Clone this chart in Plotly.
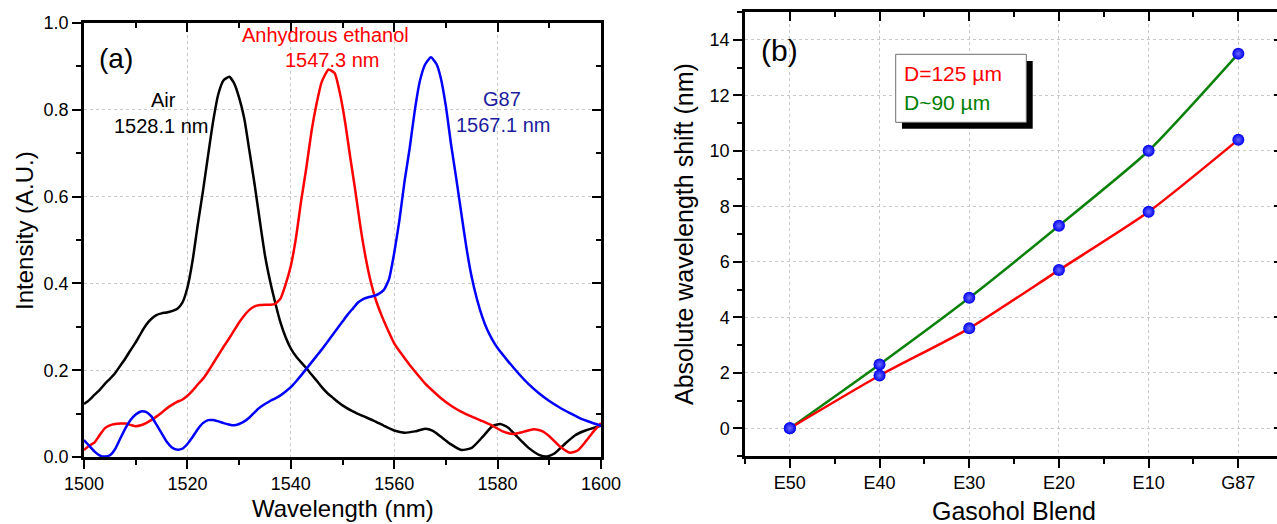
import plotly.graph_objects as go

# ---------------- data: panel (a) spectra ----------------
wl_air = [1500, 1501, 1502, 1503, 1504, 1505, 1506, 1507, 1508, 1509, 1510, 1511, 1512, 1513, 1514,
          1515, 1516, 1517, 1518, 1519, 1520, 1521, 1522, 1523, 1524, 1525, 1526, 1527, 1528.1, 1529,
          1530, 1531, 1532, 1533, 1534, 1535, 1536, 1537, 1538, 1539, 1540, 1541, 1542, 1543, 1544,
          1545, 1546, 1547, 1548, 1549, 1550, 1552, 1554, 1556, 1558, 1560, 1562, 1564, 1566, 1567.5,
          1569, 1571, 1573, 1575, 1577, 1579, 1580.5, 1582, 1584, 1586, 1588, 1589.5, 1591, 1593, 1595,
          1597, 1600]
int_air = [0.122, 0.131, 0.143, 0.154, 0.168, 0.180, 0.193, 0.210, 0.227, 0.246, 0.264, 0.285, 0.304, 0.318, 0.327,
           0.331, 0.333, 0.336, 0.341, 0.355, 0.390, 0.452, 0.535, 0.612, 0.695, 0.775, 0.837, 0.868, 0.876, 0.862,
           0.828, 0.780, 0.705, 0.628, 0.545, 0.465, 0.405, 0.355, 0.310, 0.276, 0.250, 0.232, 0.218, 0.205, 0.190,
           0.176, 0.161, 0.148, 0.138, 0.128, 0.119, 0.105, 0.094, 0.084, 0.072, 0.061, 0.056, 0.059, 0.065, 0.060,
           0.047, 0.029, 0.016, 0.021, 0.045, 0.071, 0.076, 0.068, 0.044, 0.021, 0.005, 0.001, 0.008, 0.030, 0.050,
           0.061, 0.072]

wl_eth = [1500, 1501, 1502, 1503, 1504, 1505, 1506, 1507, 1508, 1509, 1510, 1511, 1512, 1513, 1514,
          1515, 1516, 1517, 1518, 1519, 1520, 1521, 1522, 1523, 1524, 1525, 1526, 1527, 1528, 1529,
          1530, 1531, 1532, 1533, 1534, 1535, 1536, 1537, 1538, 1539, 1540, 1541, 1542, 1543, 1544,
          1545, 1546, 1547.3, 1548.5, 1549.5, 1550.5, 1551.5, 1552.5, 1553.5, 1554.5, 1555.5, 1556.5, 1557.5,
          1558.5, 1560, 1561.5, 1563, 1564.5, 1566, 1567.5, 1569, 1571, 1573, 1575, 1577, 1579, 1581, 1583,
          1585, 1587, 1588.5, 1590, 1592, 1594, 1595.5, 1597, 1598.5, 1600]
int_eth = [0.016, 0.026, 0.033, 0.050, 0.066, 0.073, 0.076, 0.077, 0.077, 0.074, 0.071, 0.073, 0.078, 0.085, 0.093,
           0.102, 0.112, 0.120, 0.127, 0.132, 0.141, 0.153, 0.167, 0.180, 0.197, 0.216, 0.235, 0.254, 0.272, 0.291,
           0.310, 0.326, 0.339, 0.347, 0.350, 0.351, 0.351, 0.353, 0.365, 0.398, 0.440, 0.505, 0.590, 0.666, 0.750,
           0.815, 0.865, 0.893, 0.884, 0.838, 0.772, 0.690, 0.612, 0.528, 0.458, 0.402, 0.360, 0.328,
           0.300, 0.262, 0.236, 0.212, 0.190, 0.169, 0.152, 0.136, 0.118, 0.104, 0.093, 0.083, 0.072, 0.059, 0.053,
           0.058, 0.064, 0.060, 0.048, 0.025, 0.010, 0.015, 0.035, 0.058, 0.078]

wl_g87 = [1500, 1501, 1502, 1503, 1504, 1505, 1506, 1507, 1508, 1509, 1510, 1511, 1512, 1513, 1514,
          1515, 1516, 1517, 1518, 1519, 1520, 1521, 1522, 1523, 1524, 1525, 1526, 1527, 1528, 1529,
          1530, 1531, 1532, 1533, 1534, 1535, 1536, 1537, 1538, 1539, 1540, 1541, 1542, 1543, 1544,
          1545, 1546, 1547, 1548, 1549, 1550, 1551, 1552, 1553, 1554, 1555, 1556, 1557, 1558, 1559,
          1560, 1561, 1562, 1563, 1564, 1565, 1566, 1567.1, 1568.2, 1569, 1570, 1571, 1572, 1573, 1574,
          1575, 1576, 1577, 1578, 1579, 1580, 1582, 1584, 1586, 1588, 1590, 1592, 1594, 1596, 1598, 1600]
int_g87 = [0.039, 0.026, 0.013, 0.004, 0.001, 0.004, 0.018, 0.042, 0.066, 0.085, 0.098, 0.105, 0.104, 0.094, 0.075,
           0.055, 0.035, 0.022, 0.017, 0.019, 0.030, 0.046, 0.064, 0.078, 0.085, 0.085, 0.082, 0.078, 0.075, 0.073,
           0.076, 0.082, 0.091, 0.103, 0.114, 0.122, 0.129, 0.135, 0.142, 0.151, 0.161, 0.174, 0.188, 0.203, 0.218,
           0.233, 0.248, 0.264, 0.280, 0.296, 0.312, 0.328, 0.342, 0.356, 0.364, 0.368, 0.371, 0.376, 0.385, 0.410,
           0.470, 0.545, 0.635, 0.712, 0.800, 0.868, 0.905, 0.921, 0.905, 0.874, 0.808, 0.720, 0.642, 0.560, 0.480,
           0.414, 0.364, 0.324, 0.293, 0.270, 0.251, 0.221, 0.193, 0.168, 0.147, 0.129, 0.114, 0.101, 0.089, 0.080, 0.072]

# ---------------- data: panel (b) shifts ----------------
blends = ["E50", "E40", "E30", "E20", "E10", "G87"]
shift_d125 = [0.0, 1.9, 3.6, 5.7, 7.8, 10.4]
shift_d90 = [0.0, 2.3, 4.7, 7.3, 10.0, 13.5]
blend_pos = list(range(len(blends)))

# ---------------- styling ----------------
W, H = 1277, 524
FONT = "Liberation Sans, Arial, sans-serif"
GRID = "#c8c8c8"


def px(x):
    return x / W


def py(y):
    return 1 - y / H


fig = go.Figure()

line_kw = dict(width=2.5, shape="spline", smoothing=0.5)
fig.add_trace(go.Scatter(x=wl_air, y=int_air, mode="lines", line=dict(color="#000000", **line_kw),
                         xaxis="x", yaxis="y", hoverinfo="skip"))
fig.add_trace(go.Scatter(x=wl_eth, y=int_eth, mode="lines", line=dict(color="#ff0000", **line_kw),
                         xaxis="x", yaxis="y", hoverinfo="skip"))
fig.add_trace(go.Scatter(x=wl_g87, y=int_g87, mode="lines", line=dict(color="#0000ff", **line_kw),
                         xaxis="x", yaxis="y", hoverinfo="skip"))

# right panel lines
fig.add_trace(go.Scatter(x=blend_pos, y=shift_d90, mode="lines",
                         line=dict(color="#0a820a", width=2.5, shape="spline", smoothing=0.6),
                         xaxis="x2", yaxis="y2"))
fig.add_trace(go.Scatter(x=blend_pos, y=shift_d125, mode="lines",
                         line=dict(color="#ff0000", width=2.5, shape="spline", smoothing=0.6),
                         xaxis="x2", yaxis="y2"))
ball = dict(size=12, color="#0000f0", gradient=dict(type="radial", color="#6a6aff"), line=dict(width=0))
fig.add_trace(go.Scatter(x=blend_pos, y=shift_d90, mode="markers", marker=ball, xaxis="x2", yaxis="y2"))
fig.add_trace(go.Scatter(x=blend_pos, y=shift_d125, mode="markers", marker=ball, xaxis="x2", yaxis="y2"))

# dummy empty traces so mirrored (inside-tick) axes are drawn
fig.add_trace(go.Scatter(x=[], y=[], xaxis="x3", yaxis="y3"))
fig.add_trace(go.Scatter(x=[], y=[], xaxis="x4", yaxis="y4"))

tickfont = dict(family=FONT, size=18, color="black")
axis_common = dict(showline=True, linecolor="black", linewidth=2.5, zeroline=False, automargin=False,
                   tickcolor="black", tickwidth=2, tickfont=tickfont)

xdom_a = [px(84), px(601)]
ydom_a = [py(457), py(23)]
xdom_b = [px(745), 1.0]
ydom_b = [py(456), py(12)]

fig.update_layout(
    width=W, height=H, margin=dict(l=0, r=0, t=0, b=0, pad=0, autoexpand=False),
    paper_bgcolor="white", plot_bgcolor="white", showlegend=False,
    font=dict(family=FONT, color="black"),
    xaxis=dict(domain=xdom_a, anchor="y", range=[1500, 1600], tick0=1500, dtick=20,
               ticks="outside", ticklen=9, showgrid=True, gridcolor=GRID, griddash="dot", gridwidth=1,
               minor=dict(dtick=10, tick0=1500, ticks="outside", ticklen=5, tickwidth=2, tickcolor="black",
                          showgrid=False),
               **axis_common),
    yaxis=dict(domain=ydom_a, anchor="x", range=[0, 1], tick0=0, dtick=0.2, tickformat=".1f",
               ticks="outside", ticklen=9, showgrid=True, gridcolor=GRID, griddash="dot", gridwidth=1,
               minor=dict(dtick=0.1, tick0=0, ticks="outside", ticklen=5, tickwidth=2, tickcolor="black",
                          showgrid=False),
               **axis_common),
    xaxis3=dict(overlaying="x", anchor="y", side="top", range=[1500, 1600], tick0=1500, dtick=20,
                ticks="inside", ticklen=9, showticklabels=False, showgrid=False,
                minor=dict(dtick=10, tick0=1500, ticks="inside", ticklen=5, tickwidth=2, tickcolor="black"),
                **axis_common),
    yaxis3=dict(overlaying="y", anchor="x", side="right", range=[0, 1], tick0=0, dtick=0.2,
                ticks="inside", ticklen=9, showticklabels=False, showgrid=False,
                minor=dict(dtick=0.1, tick0=0, ticks="inside", ticklen=5, tickwidth=2, tickcolor="black"),
                **axis_common),
    xaxis2=dict(domain=xdom_b, anchor="y2", range=[-0.5, 5.431], tickmode="array",
                tickvals=blend_pos, ticktext=blends,
                ticks="outside", ticklen=9, showgrid=True, gridcolor=GRID, griddash="dot", gridwidth=1,
                minor=dict(tickmode="array", tickvals=[p + 0.5 for p in blend_pos] + [-0.5],
                           ticks="outside", ticklen=5, tickwidth=2, tickcolor="black", showgrid=False),
                **axis_common),
    yaxis2=dict(domain=ydom_b, anchor="x2", range=[-1, 15], tick0=0, dtick=2,
                ticks="outside", ticklen=9, showgrid=True, gridcolor=GRID, griddash="dot", gridwidth=1,
                minor=dict(dtick=1, tick0=0, ticks="outside", ticklen=5, tickwidth=2, tickcolor="black",
                           showgrid=False),
                **axis_common),
    xaxis4=dict(overlaying="x2", anchor="y2", side="top", range=[-0.5, 5.431], tickmode="array",
                tickvals=blend_pos, ticks="inside", ticklen=9, showticklabels=False, showgrid=False,
                minor=dict(tickmode="array", tickvals=[p + 0.5 for p in blend_pos],
                           ticks="inside", ticklen=5, tickwidth=2, tickcolor="black"),
                **axis_common),
    yaxis4=dict(overlaying="y2", anchor="x2", side="right", range=[-1, 15], tick0=0, dtick=2,
                ticks="inside", ticklen=3, showticklabels=False, showgrid=False, showline=False,
                zeroline=False, automargin=False, tickcolor="black", tickwidth=2),
)

# legend box (panel b) with drop shadow
fig.add_shape(type="rect", xref="paper", yref="paper", x0=px(902), x1=px(1032.7), y0=py(128.7), y1=py(61),
              fillcolor="black", line=dict(width=0))
fig.add_shape(type="rect", xref="paper", yref="paper", x0=px(895.7), x1=px(1026.3), y0=py(122.3), y1=py(54.3),
              fillcolor="white", line=dict(color="#6e6e6e", width=1))


def ann(text, x, y, size, color="black", xanchor="center", angle=0):
    fig.add_annotation(text=text, xref="paper", yref="paper", x=px(x), y=py(y), showarrow=False,
                       xanchor=xanchor, yanchor="middle", textangle=angle,
                       font=dict(family=FONT, size=size, color=color))


ann("D=125 µm", 902, 73.3, 21, "#ff0000", xanchor="left")
ann("D~90 µm", 902, 102.7, 21, "#008000", xanchor="left")

# panel labels
ann("(a)", 116, 58.5, 28)
ann("(b)", 779, 50.6, 30)

# peak labels
ann("Air", 163.5, 100.3, 20, "black")
ann("1528.1 nm", 161.5, 126.3, 20, "black")
ann("Anhydrous ethanol", 325, 35.1, 20, "#ff0000")
ann("1547.3 nm", 332.5, 60.2, 20, "#ff0000")
ann("G87", 502, 99.3, 20, "#1c1c9c")
ann("1567.1 nm", 503.6, 125.3, 20, "#1c1c9c")

# axis titles
ann("Wavelength (nm)", 342.5, 508, 24)
ann("Intensity (A.U.)", 24, 231, 24, angle=-90)
ann("Gasohol Blend", 1014, 511, 25)
ann("Absolute wavelength shift (nm)", 684, 234, 25, angle=-90)

fig.write_html("out.html")
